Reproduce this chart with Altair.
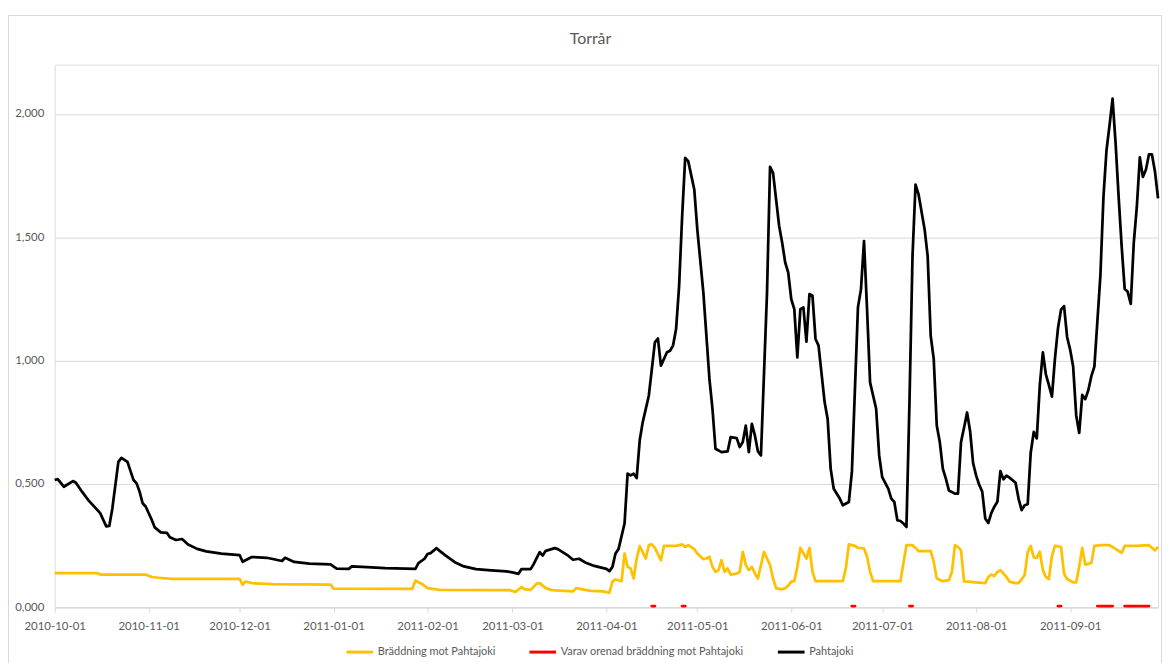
import altair as alt
import pandas as pd

START = "2010-10-01"  # day 0

TITLE = "Torrår"
S1 = "Bräddning mot Pahtajoki"
S2 = "Varav orenad bräddning mot Pahtajoki"
S3 = "Pahtajoki"

# ---- Pahtajoki (black), day index from 2010-10-01 ----
pahtajoki_day = (
    [0, 1, 3, 6, 7, 9, 11, 15, 17, 18, 19, 21, 22, 24, 26, 27, 28, 29, 30]
    + [32, 33, 35, 37, 38, 40, 42, 44, 47, 50, 55]
    + [61, 62, 65, 70, 75, 76, 79, 84, 91]
    + [93, 97, 98, 103, 109, 119, 120, 122]
    + [123, 124, 126, 127, 129, 132, 135, 139, 144, 149]
    + [151, 153, 154, 157, 158, 160, 161, 162, 165, 166, 169, 171, 173, 175, 178]
    + [182, 183, 184, 185, 186, 188, 189, 190, 191, 192, 193, 194, 196, 197, 198, 199, 200, 202, 203, 204, 205, 206, 207, 208, 209, 211]
    + [212, 214, 216, 217, 218, 220, 222, 223, 225, 226, 227, 228, 229, 230, 231, 232, 233, 235, 236, 237, 239, 240, 241, 242]
    + [243, 244, 245, 246, 247, 248, 249, 250, 251, 252, 254, 255, 256, 257, 259, 260, 262, 263, 265, 266, 267, 268, 269, 271, 272]
    + [273, 275, 276, 277, 278, 279, 280, 281, 282, 283, 284, 285, 287, 288, 289, 290, 291, 292, 293, 294, 295, 297, 298, 299, 300, 301, 302, 303]
    + [304, 305, 306, 307, 308, 309, 310, 311, 312, 313, 314, 315, 317, 318, 319, 320, 321, 322, 323, 324, 325, 326, 327, 328, 329, 330, 331, 332, 333, 334]
    + [335, 336, 337, 338, 339, 340, 341, 342, 343, 344, 345, 346, 347, 348, 349, 350, 351, 352, 353, 354, 355, 356, 357, 358, 359, 360, 361, 362, 363, 364]
)
pahtajoki_val = (
    [.516, .520, .489, .512, .505, .469, .436, .382, .328, .330, .400, .590, .606, .590, .516, .503, .469, .422, .409]
    + [.355, .324, .304, .302, .284, .273, .277, .255, .237, .227, .218]
    + [.212, .185, .204, .201, .188, .201, .184, .177, .174]
    + [.157, .156, .166, .163, .159, .156, .179, .197]
    + [.216, .220, .240, .229, .210, .183, .166, .155, .150, .146]
    + [.142, .136, .155, .155, .175, .224, .210, .229, .240, .236, .213, .193, .197, .182, .168]
    + [.156, .147, .164, .218, .236, .340, .542, .535, .542, .524, .677, .751, .858, .966, 1.074, 1.090, .980, 1.034, 1.040, 1.061, 1.128, 1.303, 1.586, 1.822, 1.809, 1.694]
    + [1.532, 1.276, .926, .805, .643, .629, .632, .690, .686, .650, .670, .737, .629, .744, .697, .632, .616, 1.276, 1.786, 1.760, 1.546, 1.478, 1.398, 1.357]
    + [1.249, 1.209, 1.013, 1.209, 1.216, 1.077, 1.270, 1.263, 1.088, 1.061, .832, .764, .562, .481, .441, .414, .427, .549, 1.216, 1.290, 1.485, 1.209, .912, .805, .616]
    + [.528, .481, .441, .427, .353, .350, .340, .326, .832, 1.424, 1.714, 1.674, 1.532, 1.424, 1.101, 1.007, .737, .670, .562, .522, .474, .461, .461, .670, .728, .790, .714, .584]
    + [.534, .497, .469, .360, .342, .382, .408, .428, .552, .519, .534, .526, .505, .440, .394, .414, .418, .627, .711, .685, .901, 1.034, .944, .901, .854, 1.009, 1.132, 1.207, 1.221, 1.096]
    + [1.045, .976, .779, .707, .861, .844, .880, .937, .976, 1.161, 1.348, 1.665, 1.853, 1.954, 2.062, 1.882, 1.665, 1.464, 1.291, 1.279, 1.230, 1.478, 1.622, 1.824, 1.745, 1.774, 1.836, 1.836, 1.766, 1.658]
)

# ---- Bräddning mot Pahtajoki (yellow) ----
braddning_day = (
    [0, 14, 15, 30]
    + [32, 36, 39, 60]
    + [61, 62, 63, 65, 72, 91]
    + [92, 118, 119, 121]
    + [123, 127, 150]
    + [152, 154, 155, 157, 159, 160, 162, 164, 168, 171, 172, 175, 177, 181]
    + [182, 183, 184, 185, 186, 187, 188, 189, 190, 191, 192, 193, 195, 196, 197, 198, 200, 201, 203, 205, 207, 208, 209, 211]
    + [212, 214, 215, 216, 217, 218, 219, 220, 221, 222, 223, 225, 226, 227, 228, 229, 230, 231, 232, 234, 236, 237, 238, 240, 241, 242]
    + [243, 244, 245, 246, 248, 249, 250, 251, 260, 261, 262, 264, 265, 267, 268, 269, 270]
    + [279, 281, 283, 284, 285, 289, 290, 291, 293, 295, 296, 297, 298, 299, 300]
    + [304, 307, 308, 309, 310, 311, 312, 314, 315, 317, 318, 320, 321, 322, 323, 324, 325, 326, 327, 328, 329, 330, 332, 333, 334]
    + [336, 337, 338, 339, 340, 342, 343, 345, 348, 352, 353, 357, 361, 363, 364]
)
braddning_val = (
    [.139, .139, .133, .133]
    + [.123, .118, .115, .115]
    + [.115, .091, .105, .098, .094, .092]
    + [.076, .075, .108, .096]
    + [.078, .071, .070]
    + [.062, .082, .074, .071, .096, .098, .078, .070, .067, .065, .078, .071, .067, .065]
    + [.062, .060, .104, .113, .110, .106, .218, .164, .158, .117, .198, .248, .198, .252, .255, .241, .191, .249, .249, .249, .255, .245, .252, .236]
    + [.218, .195, .198, .205, .164, .144, .151, .191, .144, .158, .133, .137, .144, .225, .171, .151, .164, .137, .117, .225, .171, .117, .077, .074, .077, .088]
    + [.104, .106, .164, .241, .198, .241, .144, .106, .106, .158, .255, .249, .241, .239, .205, .144, .106]
    + [.106, .252, .252, .241, .228, .228, .185, .117, .106, .110, .144, .252, .245, .231, .105]
    + [.101, .098, .123, .133, .127, .144, .151, .123, .104, .098, .098, .130, .224, .249, .202, .202, .226, .151, .123, .115, .209, .249, .245, .137, .115]
    + [.101, .101, .166, .241, .173, .180, .249, .252, .252, .221, .249, .249, .252, .231, .245]
)

# ---- Varav orenad bräddning (red), short separate runs ----
orenad_day = [197, 198, 207, 208, 263, 264, 282, 283, 331, 332,
              344, 345, 346, 347, 348, 349,
              353, 354, 355, 356, 357, 358, 359, 360, 361]
orenad_val = [.005, .005, .005, .005, .005, .005, .005, .005, .005, .005,
              .005, .005, .005, .005, .005, .005,
              .005, .005, .005, .005, .005, .005, .005, .005, .005]
orenad_run = [1, 1, 2, 2, 3, 3, 4, 4, 5, 5,
              6, 6, 6, 6, 6, 6,
              7, 7, 7, 7, 7, 7, 7, 7, 7]

assert len(pahtajoki_day) == len(pahtajoki_val)
assert len(braddning_day) == len(braddning_val)
assert len(orenad_day) == len(orenad_val) == len(orenad_run)

month_ticks = [(2010, 10), (2010, 11), (2010, 12), (2011, 1), (2011, 2), (2011, 3),
               (2011, 4), (2011, 5), (2011, 6), (2011, 7), (2011, 8), (2011, 9)]


def to_dates(days):
    return list((pd.Timestamp(START) + pd.to_timedelta(days, unit="D")).strftime("%Y-%m-%d"))


df_black = pd.DataFrame({"date": to_dates(pahtajoki_day), "value": pahtajoki_val, "series": S3})
df_yellow = pd.DataFrame({"date": to_dates(braddning_day), "value": braddning_val, "series": S1})
df_red = pd.DataFrame({"date": to_dates(orenad_day), "value": orenad_val, "series": S2, "run": orenad_run})

FONT = "Lato"
GREY_TXT = "#595959"
GRID = "#d9d9d9"
FS = 11.5

X = alt.X(
    "date:T",
    scale=alt.Scale(type="utc", nice=False,
                    domain=[alt.DateTime(year=2010, month=10, date=1, utc=True),
                            alt.DateTime(year=2011, month=9, date=30, utc=True)]),
    axis=alt.Axis(
        title=None,
        values=[alt.DateTime(year=y, month=m, date=1, utc=True) for y, m in month_ticks],
        labelExpr="utcFormat(datum.value, '%Y-%m-%d')",
        grid=False, domainColor=GRID, tickColor=GRID, tickSize=5,
        labelColor=GREY_TXT, labelFontSize=FS, labelFont=FONT, labelPadding=8,
        labelOverlap=False, labelFlush=False, labelBound=False,
    ),
)
Y = alt.Y(
    "value:Q",
    scale=alt.Scale(domain=[0, 2.2], nice=False),
    axis=alt.Axis(
        title=None, values=[0, 0.5, 1.0, 1.5, 2.0],
        labelExpr="replace(format(datum.value, '.3f'), '.', ',')",
        domain=False, ticks=False, tickSize=0, gridColor=GRID, gridWidth=1,
        labelColor=GREY_TXT, labelFontSize=FS, labelFont=FONT, labelPadding=11,
    ),
)
C = alt.Color(
    "series:N",
    scale=alt.Scale(domain=[S1, S2, S3], range=["#FFC000", "#FF0000", "#000000"]),
    legend=alt.Legend(
        title=None, orient="none", legendX=292, legendY=576, direction="horizontal",
        symbolType="stroke", symbolSize=720, symbolStrokeWidth=3,
        labelFont=FONT, labelFontSize=11, labelColor=GREY_TXT, labelOffset=3,
        columnPadding=27, padding=0, labelLimit=400,
    ),
)

one_row = pd.DataFrame({"k": [0]})

frame = alt.Chart(one_row).mark_rect(
    fillOpacity=0, stroke=GRID, strokeWidth=1
).encode(x=alt.value(-46.5), x2=alt.value(1113.5), y=alt.value(-49.5), y2=alt.value(620))

title = alt.Chart(one_row).mark_text(
    text=TITLE, font=FONT, fontSize=16, color=GREY_TXT, align="center", baseline="alphabetic"
).encode(x=alt.value(539), y=alt.value(-21))

yellow = alt.Chart(df_yellow).mark_line(strokeWidth=2.75, strokeJoin="round").encode(x=X, y=Y, color=C)
red = alt.Chart(df_red).mark_line(strokeWidth=3, strokeCap="round").encode(x=X, y=Y, color=C, detail="run:N")
black = alt.Chart(df_black).mark_line(strokeWidth=2.75, strokeJoin="round").encode(x=X, y=Y, color=C)

chart = alt.layer(frame, title, yellow, red, black).properties(
    width=1110,
    height=546,
    padding={"left": 47, "top": 55, "right": 4, "bottom": 54},
    autosize=alt.AutoSizeParams(type="none"),
).configure_view(stroke="transparent").configure(background="white")

chart.save("out.html", embed_options={"renderer": "svg", "actions": False})
